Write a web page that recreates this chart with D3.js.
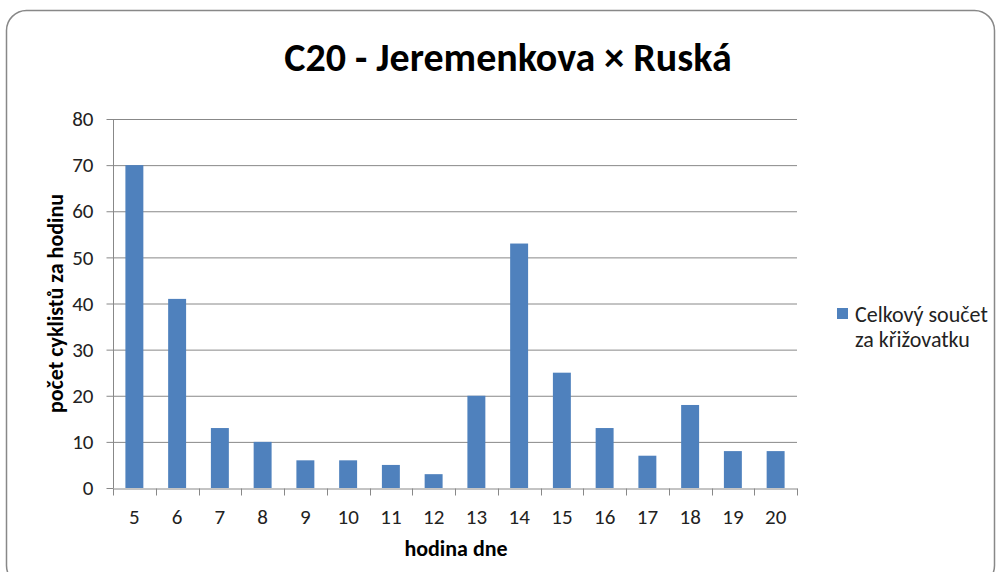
<!DOCTYPE html>
<html>
<head>
<meta charset="utf-8">
<script src="https://cdn.jsdelivr.net/npm/d3@7"></script>
<style>
  body { margin: 0; background: #fff; }
  svg { display: block; }
</style>
</head>
<body>
<div id="chart"></div>
<script>
  const hours = ["5", "6", "7", "8", "9", "10", "11", "12", "13", "14", "15", "16", "17", "18", "19", "20"];
  const cyclists = [70, 41, 13, 10, 6, 6, 5, 3, 20, 53, 25, 13, 7, 18, 8, 8];
  const yTicks = [0, 10, 20, 30, 40, 50, 60, 70, 80];
  const seriesName = ["Celkový součet", "za křižovatku"];

  const width = 1000, height = 572;
  const margin = { left: 113, right: 203, top: 119, bottom: 84 };
  const font = "Carlito, 'Liberation Sans', sans-serif";

  const svg = d3.select("#chart").append("svg")
    .attr("width", width)
    .attr("height", height);

  svg.append("rect")
    .attr("x", 6.5).attr("y", 10.5)
    .attr("width", 988).attr("height", 575)
    .attr("rx", 20)
    .attr("fill", "#fff")
    .attr("stroke", "#888")
    .attr("stroke-width", 1.5);

  const x = d3.scaleBand()
    .domain(hours)
    .range([margin.left, width - margin.right])
    .paddingInner(0.58)
    .paddingOuter(0.29);

  const y = d3.scaleLinear()
    .domain([0, 80])
    .range([height - margin.bottom, margin.top]);

  // gridlines
  svg.append("g")
    .selectAll("line")
    .data(yTicks.slice(1))
    .join("line")
    .attr("x1", margin.left).attr("x2", width - margin.right)
    .attr("y1", d => y(d) + 0.5).attr("y2", d => y(d) + 0.5)
    .attr("stroke", "#888")
    .attr("stroke-width", 1);

  // bars
  svg.append("g")
    .selectAll("rect")
    .data(cyclists)
    .join("rect")
    .attr("x", (d, i) => x(hours[i]))
    .attr("y", d => y(d))
    .attr("width", x.bandwidth())
    .attr("height", d => y(0) - y(d))
    .attr("fill", "#4F81BD");

  // y axis
  const yAxis = svg.append("g")
    .attr("transform", `translate(${margin.left + 0.5},0)`)
    .call(d3.axisLeft(y).tickValues(yTicks).tickSize(7).tickPadding(13));
  yAxis.select(".domain").attr("stroke", "#888").attr("d", `M0,${y(80)}V${y(0)}`);
  yAxis.selectAll(".tick line").attr("stroke", "#888");
  yAxis.selectAll(".tick text")
    .style("font-family", font).style("font-size", "21px").attr("fill", "#222");

  // x axis with ticks at category boundaries
  const xAxis = svg.append("g")
    .attr("transform", `translate(0,${y(0) + 0.5})`)
    .call(d3.axisBottom(x).tickSize(0).tickPadding(21));
  xAxis.select(".domain").attr("stroke", "#888");
  xAxis.selectAll(".tick text")
    .style("font-family", font).style("font-size", "21px").attr("fill", "#222");
  const step = x.step();
  xAxis.append("g")
    .selectAll("line")
    .data(d3.range(hours.length + 1))
    .join("line")
    .attr("x1", i => Math.round(margin.left + i * step) + 0.5)
    .attr("x2", i => Math.round(margin.left + i * step) + 0.5)
    .attr("y1", 0).attr("y2", 7)
    .attr("stroke", "#888");

  // titles
  svg.append("text")
    .attr("x", 508).attr("y", 71)
    .attr("text-anchor", "middle")
    .style("font-family", font).style("font-size", "40px").style("font-weight", "bold")
    .text("C20 - Jeremenkova × Ruská");

  svg.append("text")
    .attr("x", 456).attr("y", 556)
    .attr("text-anchor", "middle")
    .style("font-family", font).style("font-size", "22px").style("font-weight", "bold")
    .text("hodina dne");

  svg.append("text")
    .attr("transform", `translate(63,${(y(0) + y(80)) / 2}) rotate(-90)`)
    .attr("text-anchor", "middle")
    .style("font-family", font).style("font-size", "22px").style("font-weight", "bold")
    .text("počet cyklistů za hodinu");

  // legend
  svg.append("rect")
    .attr("x", 837).attr("y", 308)
    .attr("width", 11).attr("height", 11)
    .attr("fill", "#4F81BD");
  svg.append("text")
    .attr("x", 855).attr("y", 322)
    .style("font-family", font).style("font-size", "22px").attr("fill", "#222")
    .selectAll("tspan")
    .data(seriesName)
    .join("tspan")
    .attr("x", 855)
    .attr("dy", (d, i) => i ? 25 : 0)
    .text(d => d);
</script>
</body>
</html>
